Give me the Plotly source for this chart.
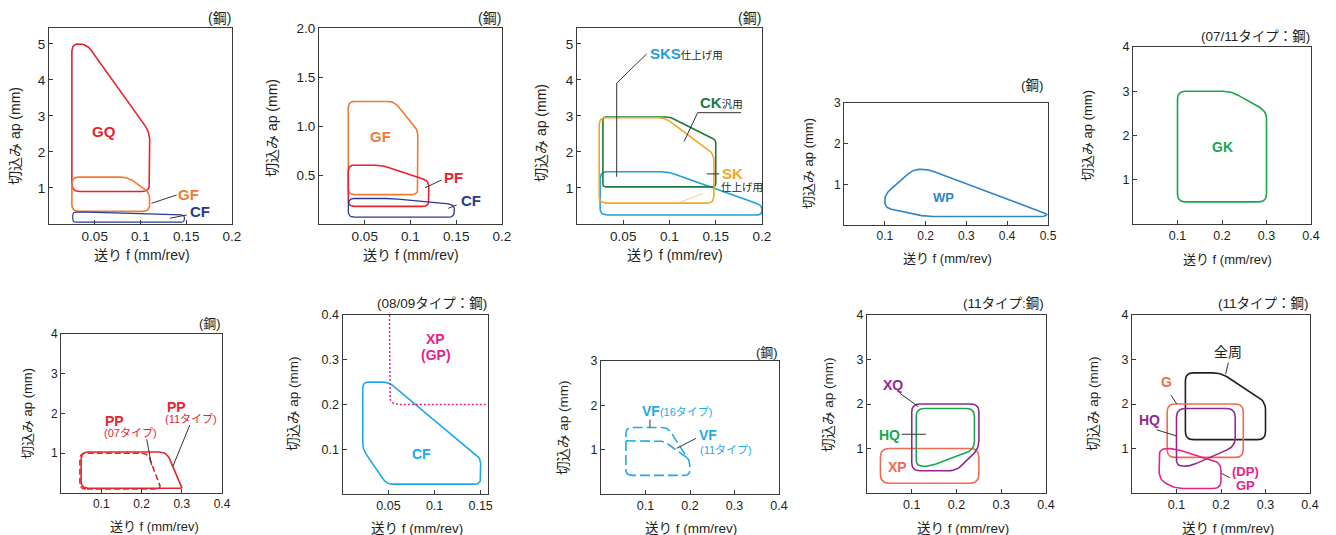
import plotly.graph_objects as go

W, H = 1336, 535
FONT = "Liberation Sans, Arial, 'Noto Sans CJK JP', sans-serif"
INK = "#231f20"

# ---------------- data (feed f [mm/rev], depth ap [mm]) ----------------
# Panel 1
P1_GQ_F = [0.025, 0.025, 0.041, 0.110, 0.110]
P1_GQ_AP = [0.90, 5.00, 5.00, 2.55, 0.90]
P1_GF_F = [0.025, 0.025, 0.086, 0.110, 0.110]
P1_GF_AP = [0.35, 1.30, 1.30, 0.88, 0.35]
P1_CF_F = [0.026, 0.026, 0.040, 0.148, 0.148]
P1_CF_AP = [0.05, 0.33, 0.33, 0.25, 0.05]
# Panel 2
P2_GF_F = [0.032, 0.032, 0.082, 0.108, 0.108]
P2_GF_AP = [0.30, 1.25, 1.25, 0.96, 0.30]
P2_PF_F = [0.032, 0.032, 0.068, 0.120, 0.120]
P2_PF_AP = [0.18, 0.60, 0.60, 0.44, 0.18]
P2_CF_F = [0.032, 0.032, 0.080, 0.148, 0.148]
P2_CF_AP = [0.07, 0.26, 0.26, 0.20, 0.07]
# Panel 3
P3_CK_F = [0.028, 0.028, 0.100, 0.150, 0.150]
P3_CK_AP = [1.03, 2.97, 2.97, 2.33, 1.03]
P3_SK_F = [0.024, 0.024, 0.095, 0.148, 0.148]
P3_SK_AP = [0.58, 2.95, 2.95, 1.95, 0.58]
P3_SKS_F = [0.025, 0.025, 0.098, 0.200, 0.200]
P3_SKS_AP = [0.25, 1.45, 1.45, 0.52, 0.25]
# Panel 4
P4_WP_F = [0.100, 0.100, 0.170, 0.205, 0.500, 0.490, 0.200]
P4_WP_AP = [0.42, 0.75, 1.37, 1.37, 0.26, 0.21, 0.21]
# Panel 5
P5_GK_F = [0.10, 0.10, 0.22, 0.30, 0.30]
P5_GK_AP = [0.50, 3.00, 3.00, 2.55, 0.50]
# Panel 6
P6_PP11_F = [0.050, 0.050, 0.262, 0.300, 0.300]
P6_PP11_AP = [0.12, 1.03, 1.03, 0.18, 0.12]
P6_PP07_F = [0.047, 0.047, 0.215, 0.250]
P6_PP07_AP = [0.10, 1.00, 1.00, 0.10]
# Panel 7
P7_CF_F = [0.022, 0.022, 0.050, 0.150, 0.150, 0.048]
P7_CF_AP = [0.100, 0.250, 0.250, 0.080, 0.022, 0.022]
P7_XP_F = [0.051, 0.051, 0.158]
P7_XP_AP = [0.40, 0.20, 0.20]
# Panel 8
P8_VF16_F = [0.056, 0.056, 0.150, 0.200, 0.200]
P8_VF16_AP = [0.42, 1.50, 1.50, 0.74, 0.42]
P8_VF11_F = [0.056, 0.140, 0.193]
P8_VF11_AP = [1.20, 1.20, 0.82]
# Panel 9
P9_XQ_F = [0.10, 0.10, 0.25, 0.25, 0.20]
P9_XQ_AP = [0.50, 2.00, 2.00, 1.00, 0.50]
P9_HQ_F = [0.11, 0.11, 0.24, 0.24, 0.14]
P9_HQ_AP = [0.60, 1.90, 1.90, 0.98, 0.60]
P9_XP_F = [0.03, 0.03, 0.25, 0.25]
P9_XP_AP = [0.22, 1.00, 1.00, 0.22]
# Panel 10
P10_ALL_F = [0.12, 0.12, 0.20, 0.30, 0.30]
P10_ALL_AP = [1.20, 2.70, 2.70, 2.05, 1.20]
P10_G_F = [0.079, 0.079, 0.25, 0.25]
P10_G_AP = [0.80, 2.00, 2.00, 0.80]
P10_HQ_F = [0.10, 0.10, 0.232, 0.232, 0.13]
P10_HQ_AP = [0.60, 1.90, 1.90, 1.05, 0.60]
P10_GP_F = [0.061, 0.061, 0.095, 0.200, 0.200, 0.097]
P10_GP_AP = [0.30, 1.00, 1.00, 0.68, 0.10, 0.10]

# leader lines
P1_L_GF = ([0.112, 0.1396], [0.575, 0.805])
P1_L_CF = ([0.132, 0.1505], [0.16, 0.25])
P2_L_PF = ([0.1159, 0.134], [0.37, 0.449])
P2_L_CF = ([0.1413, 0.1505], [0.16, 0.194])
P3_L_SKS = ([0.0753, 0.0429, 0.0429], [4.72, 3.91, 1.31])
P3_L_CK = ([0.1773, 0.1305, 0.1157], [3.09, 3.09, 2.29])
P3_L_SK = ([0.1402, 0.1538], [1.39, 1.39])
P3_L_FAINT = ([0.111, 0.1365], [0.60, 0.85])
P6_L_07 = ([0.213, 0.225], [1.35, 0.70])
P6_L_11 = ([0.320, 0.2776], [1.71, 0.66])
P8_L_16 = ([0.110, 0.110], [1.68, 1.50])
P8_L_11 = ([0.2135, 0.170], [1.256, 1.03])
P9_L_XQ = ([0.0737, 0.1147], [2.24, 1.94])
P9_L_HQ = ([0.0775, 0.1318], [1.32, 1.32])
P10_L_ALL = ([0.2164, 0.2105], [2.93, 2.67])
P10_L_G = ([0.0876, 0.1004], [2.20, 2.00])
P10_L_HQ = ([0.0555, 0.1004], [1.42, 1.28])
P10_L_GP = ([0.2016, 0.220], [0.44, 0.34])

# tick labels
X_TICKS_A = [0.05, 0.1, 0.15, 0.2]
X_TEXT_A = ["0.05", "0.1", "0.15", "0.2"]
Y_TICKS_5 = [1, 2, 3, 4, 5]
Y_TICKS_2 = [0.5, 1.0, 1.5, 2.0]
Y_TEXT_2 = ["0.5", "1.0", "1.5", "2.0"]
X_TICKS_5 = [0.1, 0.2, 0.3, 0.4, 0.5]
Y_TICKS_3 = [1, 2, 3]
X_TICKS_4 = [0.1, 0.2, 0.3, 0.4]
Y_TICKS_4 = [1, 2, 3, 4]
X_TICKS_7 = [0.05, 0.1, 0.15]
Y_TICKS_7 = [0.1, 0.2, 0.3, 0.4]

# ---------------- panel layout (pixel boxes) ----------------
PANELS = {
    1: dict(box=(49, 28, 232, 224), xr=(0, 0.2), yr=(0, 5.44), xt=X_TICKS_A, xtt=X_TEXT_A, yt=Y_TICKS_5, ytt=None, fs=13.5),
    2: dict(box=(319, 28, 502, 224), xr=(0, 0.2), yr=(0, 2.0), xt=X_TICKS_A, xtt=X_TEXT_A, yt=Y_TICKS_2, ytt=Y_TEXT_2, fs=13.5),
    3: dict(box=(577, 28, 762, 224), xr=(0, 0.2), yr=(0, 5.44), xt=X_TICKS_A, xtt=X_TEXT_A, yt=Y_TICKS_5, ytt=None, fs=13.5),
    4: dict(box=(844, 103, 1048, 225), xr=(0, 0.5), yr=(0, 3), xt=X_TICKS_5, xtt=None, yt=Y_TICKS_3, ytt=None, fs=12),
    5: dict(box=(1133, 47, 1311, 224), xr=(0, 0.4), yr=(0, 4), xt=X_TICKS_4, xtt=None, yt=Y_TICKS_4, ytt=None, fs=12.5),
    6: dict(box=(61, 334, 222, 493), xr=(0, 0.4), yr=(0, 4), xt=X_TICKS_4, xtt=None, yt=Y_TICKS_4, ytt=None, fs=12),
    7: dict(box=(342.5, 315, 488, 494), xr=(0, 0.158), yr=(0, 0.4), xt=X_TICKS_7, xtt=["0.05", "0.1", "0.15"], yt=Y_TICKS_7, ytt=None, fs=12.5),
    8: dict(box=(601, 361, 779, 494), xr=(0, 0.4), yr=(0, 3), xt=X_TICKS_4, xtt=None, yt=Y_TICKS_3, ytt=None, fs=12.5),
    9: dict(box=(867, 315, 1046, 493), xr=(0, 0.4), yr=(0, 4), xt=X_TICKS_4, xtt=None, yt=Y_TICKS_4, ytt=None, fs=12.5),
    10: dict(box=(1132, 315, 1310, 493), xr=(0, 0.4), yr=(0, 4), xt=X_TICKS_4, xtt=None, yt=Y_TICKS_4, ytt=None, fs=12.5),
}


def rounded(xs, ys, p, r=6, closed=True, n=8):
    """Round polygon corners with radius r (pixels) using the axis scale."""
    cfg = PANELS[p]
    l, t, rr, b = cfg["box"]
    x0, x1 = cfg["xr"]
    y0, y1 = cfg["yr"]
    sx = (rr - l) / (x1 - x0)
    sy = (b - t) / (y1 - y0)
    P = [((x - x0) * sx, (y - y0) * sy) for x, y in zip(xs, ys)]
    m = len(P)
    out = []
    for i in range(m):
        if not closed and (i == 0 or i == m - 1):
            out.append(P[i])
            continue
        V = P[i]
        A = P[i - 1]
        B = P[(i + 1) % m]
        da = ((A[0] - V[0]) ** 2 + (A[1] - V[1]) ** 2) ** 0.5
        db = ((B[0] - V[0]) ** 2 + (B[1] - V[1]) ** 2) ** 0.5
        if da == 0 or db == 0:
            out.append(V)
            continue
        d = min(r, da / 2, db / 2)
        pa = (V[0] + (A[0] - V[0]) / da * d, V[1] + (A[1] - V[1]) / da * d)
        pb = (V[0] + (B[0] - V[0]) / db * d, V[1] + (B[1] - V[1]) / db * d)
        for k in range(n + 1):
            tt = k / n
            out.append(((1 - tt) ** 2 * pa[0] + 2 * (1 - tt) * tt * V[0] + tt ** 2 * pb[0],
                        (1 - tt) ** 2 * pa[1] + 2 * (1 - tt) * tt * V[1] + tt ** 2 * pb[1]))
    if closed:
        out.append(out[0])
    return [q[0] / sx + x0 for q in out], [q[1] / sy + y0 for q in out]


fig = go.Figure()


def ax(p):
    return ("x" if p == 1 else f"x{p}"), ("y" if p == 1 else f"y{p}")


def shape(p, xs, ys, color, r=6, closed=True, dash="solid", width=1.6):
    fx, fy = rounded(xs, ys, p, r=r, closed=closed)
    xa, ya = ax(p)
    fig.add_trace(go.Scatter(x=fx, y=fy, mode="lines", xaxis=xa, yaxis=ya,
                             line=dict(color=color, width=width, dash=dash),
                             hoverinfo="skip", showlegend=False))


def leader(p, ln, color="#333333", width=1):
    xa, ya = ax(p)
    fig.add_trace(go.Scatter(x=ln[0], y=ln[1], mode="lines", xaxis=xa, yaxis=ya,
                             line=dict(color=color, width=width),
                             hoverinfo="skip", showlegend=False))


RED = "#e8232d"
ORANGE = "#f07a35"
NAVY = "#2b3990"
CKGREEN = "#1b7a3e"
AMBER = "#f5a623"
SKY = "#1ea0dc"
WPBLUE = "#2f86c9"
GREEN = "#19a64f"
CYAN = "#1eaae6"
MAGENTA = "#e6228c"
PURPLE = "#93278f"
SALMON = "#f26a4f"

# Panel 1
shape(1, P1_GQ_F, P1_GQ_AP, RED, r=8)
shape(1, P1_GF_F, P1_GF_AP, ORANGE, r=7)
shape(1, P1_CF_F, P1_CF_AP, NAVY, r=3, width=1.2)
leader(1, P1_L_GF); leader(1, P1_L_CF)
# Panel 2
shape(2, P2_GF_F, P2_GF_AP, ORANGE, r=6)
shape(2, P2_PF_F, P2_PF_AP, RED, r=6)
shape(2, P2_CF_F, P2_CF_AP, NAVY, r=6, width=1.3)
leader(2, P2_L_PF); leader(2, P2_L_CF)
# Panel 3
shape(3, P3_SKS_F, P3_SKS_AP, SKY, r=7)
shape(3, P3_CK_F, P3_CK_AP, CKGREEN, r=3)
shape(3, P3_SK_F, P3_SK_AP, AMBER, r=7)
leader(3, P3_L_SKS); leader(3, P3_L_CK); leader(3, P3_L_SK)
leader(3, P3_L_FAINT, color="#f9c9a9")
# Panel 4
shape(4, P4_WP_F, P4_WP_AP, WPBLUE, r=7)
# Panel 5
shape(5, P5_GK_F, P5_GK_AP, GREEN, r=8)
# Panel 6
shape(6, P6_PP07_F, P6_PP07_AP, RED, r=6, dash="6px,3px")
shape(6, P6_PP11_F, P6_PP11_AP, RED, r=7)
leader(6, P6_L_07); leader(6, P6_L_11)
# Panel 7
shape(7, P7_CF_F, P7_CF_AP, CYAN, r=6)
shape(7, P7_XP_F, P7_XP_AP, MAGENTA, r=10, closed=False, dash="2px,2px", width=1.5)
# Panel 8
shape(8, P8_VF16_F, P8_VF16_AP, CYAN, r=6, dash="10px,4px")
shape(8, P8_VF11_F, P8_VF11_AP, CYAN, r=6, closed=False, dash="10px,4px")
leader(8, P8_L_16); leader(8, P8_L_11)
# Panel 9
shape(9, P9_XP_F, P9_XP_AP, SALMON, r=9)
shape(9, P9_XQ_F, P9_XQ_AP, PURPLE, r=8)
shape(9, P9_HQ_F, P9_HQ_AP, GREEN, r=8)
leader(9, P9_L_XQ); leader(9, P9_L_HQ)
# Panel 10
shape(10, P10_ALL_F, P10_ALL_AP, INK, r=8)
shape(10, P10_G_F, P10_G_AP, SALMON, r=8)
shape(10, P10_HQ_F, P10_HQ_AP, PURPLE, r=9)
shape(10, P10_GP_F, P10_GP_AP, MAGENTA, r=8)
leader(10, P10_L_ALL); leader(10, P10_L_G); leader(10, P10_L_HQ); leader(10, P10_L_GP)

# ---------------- axes ----------------
layout = dict(width=W, height=H, margin=dict(l=0, r=0, t=0, b=0),
              paper_bgcolor="white", plot_bgcolor="white",
              font=dict(family=FONT, color=INK), showlegend=False)
for p, c in PANELS.items():
    l, t, r, b = c["box"]
    xk = "xaxis" if p == 1 else f"xaxis{p}"
    yk = "yaxis" if p == 1 else f"yaxis{p}"
    xa, ya = ax(p)
    common = dict(showline=True, mirror=True, linecolor="#3a3a3a", linewidth=1,
                  ticks="inside", ticklen=4, tickcolor="#3a3a3a", showgrid=False,
                  zeroline=False, automargin=False, fixedrange=True,
                  tickfont=dict(family=FONT, size=c["fs"], color=INK))
    xd = dict(common, domain=[l / W, r / W], range=list(c["xr"]), anchor=ya,
              tickmode="array", tickvals=c["xt"])
    if c["xtt"]:
        xd["ticktext"] = c["xtt"]
    yd = dict(common, domain=[1 - b / H, 1 - t / H], range=list(c["yr"]), anchor=xa,
              tickmode="array", tickvals=c["yt"])
    if c["ytt"]:
        yd["ticktext"] = c["ytt"]
    layout[xk] = xd
    layout[yk] = yd

ann = []


def ptext(px, py, text, size, anchor="center", angle=0, color=INK):
    ann.append(dict(x=px / W, y=1 - py / H, xref="paper", yref="paper", text=text,
                    showarrow=False, xanchor=anchor, yanchor="middle", textangle=angle,
                    font=dict(family=FONT, size=size, color=color)))


def dtext(p, x, y, text, size, color, anchor="center"):
    xa, ya = ax(p)
    ann.append(dict(x=x, y=y, xref=xa, yref=ya, text=text, showarrow=False,
                    xanchor=anchor, yanchor="middle",
                    font=dict(family=FONT, size=size, color=color)))


YT = "切込み ap (mm)"
XT = "送り f (mm/rev)"
# axis titles
for (px, py, fs) in [(15, 136, 14), (272, 128, 14), (541, 133, 14), (808, 164, 13), (1088, 136, 13),
                     (27, 414, 13), (293, 404, 13.5), (563, 428, 13.5), (828, 404, 13.5), (1093, 404, 13.5)]:
    ptext(px, py, YT, fs, angle=-90)
for (px, py, fs) in [(142, 255, 14), (411, 255, 14), (675, 255, 14), (947, 258, 13), (1227, 259, 13),
                     (154, 526, 13), (417, 528, 13.5), (691, 528, 13.5), (963, 528, 13.5), (1228, 528, 13.5)]:
    ptext(px, py, XT, fs)

# panel headings
ptext(233, 18, "(鋼)", 14, anchor="right")
ptext(503, 18, "(鋼)", 14, anchor="right")
ptext(763, 18, "(鋼)", 14, anchor="right")
ptext(1046, 85, "(鋼)", 13.5, anchor="right")
ptext(1312, 37, "(07/11タイプ：鋼)", 13.5, anchor="right")
ptext(223, 323, "(鋼)", 13, anchor="right")
ptext(489, 303, "(08/09タイプ：鋼)", 13.5, anchor="right")
ptext(780, 352, "(鋼)", 13, anchor="right")
ptext(1046, 303, "(11タイプ:鋼)", 13.5, anchor="right")
ptext(1311, 303, "(11タイプ：鋼)", 13.5, anchor="right")

# series labels
dtext(1, 0.060, 2.56, "<b>GQ</b>", 15, RED)
dtext(1, 0.152, 0.83, "<b>GF</b>", 15, ORANGE)
dtext(1, 0.165, 0.36, "<b>CF</b>", 15, NAVY)
dtext(2, 0.067, 0.89, "<b>GF</b>", 15, ORANGE)
dtext(2, 0.147, 0.47, "<b>PF</b>", 15, RED)
dtext(2, 0.166, 0.235, "<b>CF</b>", 15, NAVY)
dtext(3, 0.077, 4.72, f"<b>SKS</b><span style='font-size:10.5px;color:{INK}'>仕上げ用</span>", 15, SKY, anchor="left")
dtext(3, 0.1305, 3.37, f"<b>CK</b><span style='font-size:10.5px;color:{INK}'>汎用</span>", 15, CKGREEN, anchor="left")
dtext(3, 0.1546, 1.41, "<b>SK</b>", 15, AMBER, anchor="left")
dtext(3, 0.1540, 1.04, "仕上げ用", 10.5, INK, anchor="left")
dtext(4, 0.243, 0.67, "<b>WP</b>", 13, WPBLUE)
dtext(5, 0.2016, 1.73, "<b>GK</b>", 14, GREEN)
dtext(6, 0.105, 1.82, "<b>PP</b>", 14, RED, anchor="left")
dtext(6, 0.101, 1.52, "(07タイプ)", 11, RED, anchor="left")
dtext(6, 0.258, 2.16, "<b>PP</b>", 14, RED, anchor="left")
dtext(6, 0.254, 1.86, "(11タイプ)", 11, RED, anchor="left")
dtext(7, 0.101, 0.346, "<b>XP</b>", 14, MAGENTA)
dtext(7, 0.101, 0.310, "<b>(GP)</b>", 14, MAGENTA)
dtext(7, 0.086, 0.089, "<b>CF</b>", 14, CYAN)
dtext(8, 0.0877, 1.87, "<b>VF</b><span style='font-size:11px'>(16タイプ)</span>", 14, CYAN, anchor="left")
dtext(8, 0.215, 1.33, "<b>VF</b>", 14, CYAN, anchor="left")
dtext(8, 0.218, 1.00, "(11タイプ)", 11, CYAN, anchor="left")
dtext(9, 0.0574, 2.43, "<b>XQ</b>", 14, PURPLE)
dtext(9, 0.050, 1.30, "<b>HQ</b>", 14, GREEN)
dtext(9, 0.0677, 0.59, "<b>XP</b>", 14, SALMON)
dtext(10, 0.2164, 3.17, "全周", 14, INK)
dtext(10, 0.0764, 2.49, "<b>G</b>", 14, SALMON)
dtext(10, 0.039, 1.64, "<b>HQ</b>", 14, PURPLE)
dtext(10, 0.256, 0.49, "<b>(DP)</b>", 13, MAGENTA)
dtext(10, 0.256, 0.175, "<b>GP</b>", 13, MAGENTA)

layout["annotations"] = ann
fig.update_layout(**layout)
fig.write_html("out.html", config={"displayModeBar": False},
               post_script="document.body.style.margin='0';document.body.style.padding='0';"
                           "document.body.style.overflow='hidden';")
